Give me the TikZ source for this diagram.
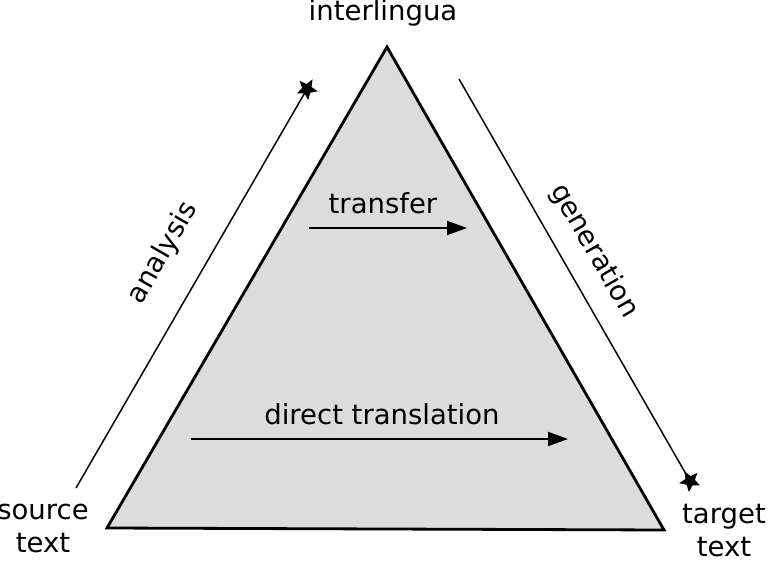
\documentclass[tikz,border=0pt]{standalone}
\usepackage{fontspec}
\setmainfont{DejaVu Sans}
\usetikzlibrary{arrows.meta,shapes.geometric}
\begin{document}
\begin{tikzpicture}[x=1pt,y=-1pt,
  lbl/.style={font=\fontsize{27.5}{33}\selectfont, inner sep=0pt, align=center},
  starend/.style={star, star points=5, star point ratio=2.2, fill=black, minimum size=22pt, inner sep=0pt},
  arr/.style={line width=2pt, -{Triangle[length=20pt,width=14pt]}},
  side/.style={line width=1.5pt}]
\useasboundingbox (0,0) rectangle (768,561);
\coordinate (apex) at (387,47);
\coordinate (bl) at (107,528);
\coordinate (br) at (664,530);
\fill[fill={rgb,255:red,220;green,220;blue,220}] (apex) -- (bl) -- (br) -- cycle;
\draw[line width=2.8pt, line join=miter] (apex) -- (bl) -- (br) -- cycle;
\node[lbl] (inter) at (383,13) {interlingua};
\node[lbl] (src) at (43,528) {source\\text};
\node[lbl] (tgt) at (724,531) {target\\text};
\node[lbl] (transfer) at (383,203) {transfer};
\node[lbl] (direct) at (382,414) {direct translation};
\node[lbl, rotate=60] (analysis) at (163,253) {analysis};
\node[lbl, rotate=-60] (generation) at (594,251) {generation};
\coordinate (t1) at (309,228);
\coordinate (t2) at (467,228);
\draw[arr] (t1) -- (t2);
\coordinate (d1) at (191,439);
\coordinate (d2) at (568,439);
\draw[arr] (d1) -- (d2);
\coordinate (a1) at (76,488);
\node[starend, rotate=-30] (astar) at (307,89) {};
\draw[side] (a1) -- (astar.center);
\coordinate (g1) at (459,79);
\node[starend, rotate=30] (gstar) at (690,481) {};
\draw[side] (g1) -- (gstar.center);
\end{tikzpicture}
\end{document}
